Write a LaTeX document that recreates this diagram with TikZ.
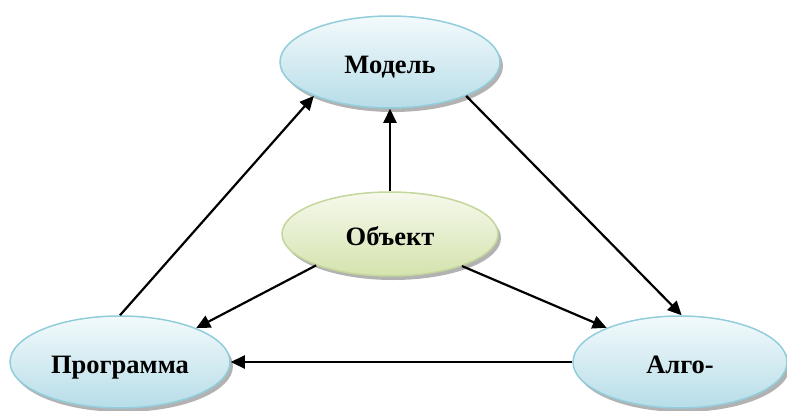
\documentclass[tikz,border=0pt]{standalone}
\usepackage{fontspec}
\setmainfont{Liberation Serif}
\usetikzlibrary{shapes.geometric,arrows.meta,shadows}
\definecolor{bluebd}{HTML}{92CDDC}
\definecolor{bluetop}{HTML}{F3FAFC}
\definecolor{bluebot}{HTML}{B7DDE8}
\definecolor{greenbd}{HTML}{C3D69B}
\definecolor{greentop}{HTML}{F6F9EC}
\definecolor{greenbot}{HTML}{D4E3AE}
\tikzset{
  oval/.style={ellipse, draw=bluebd, line width=1.5pt, top color=bluetop, bottom color=bluebot,
    drop shadow={shadow xshift=3pt, shadow yshift=-4pt, opacity=0.5, fill=black!60},
    font=\bfseries\fontsize{26.5}{30}\selectfont, inner sep=0pt, text height=23pt, text depth=0pt},
  greenoval/.style={oval, draw=greenbd, top color=greentop, bottom color=greenbot},
  arr/.style={line width=2.2pt, -{Triangle[length=14pt,width=13pt]}}
}
\begin{document}
\begin{tikzpicture}[x=1pt,y=-1pt]
\useasboundingbox (0,0) rectangle (787,410);
\node[oval, minimum width=220pt, minimum height=92pt] (model) at (390,62) {Модель};
\node[greenoval, minimum width=216pt, minimum height=84pt] (obj) at (390,234) {Объект};
\node[oval, minimum width=220pt, minimum height=92pt] (prog) at (120,362) {Программа};
\node[oval, minimum width=214pt, minimum height=92pt] (alg) at (680,362) {Алго-};
\draw[arr] (obj.north) -- (model.south);
\draw[arr] (prog.north) -- (model.204);
\draw[arr] (model.336) -- (alg.88);
\draw[arr] (obj.203) -- (prog.24);
\draw[arr] (obj.336.5) -- (alg.155.6);
\draw[arr] (alg.west) -- (prog.east);
\end{tikzpicture}
\end{document}
